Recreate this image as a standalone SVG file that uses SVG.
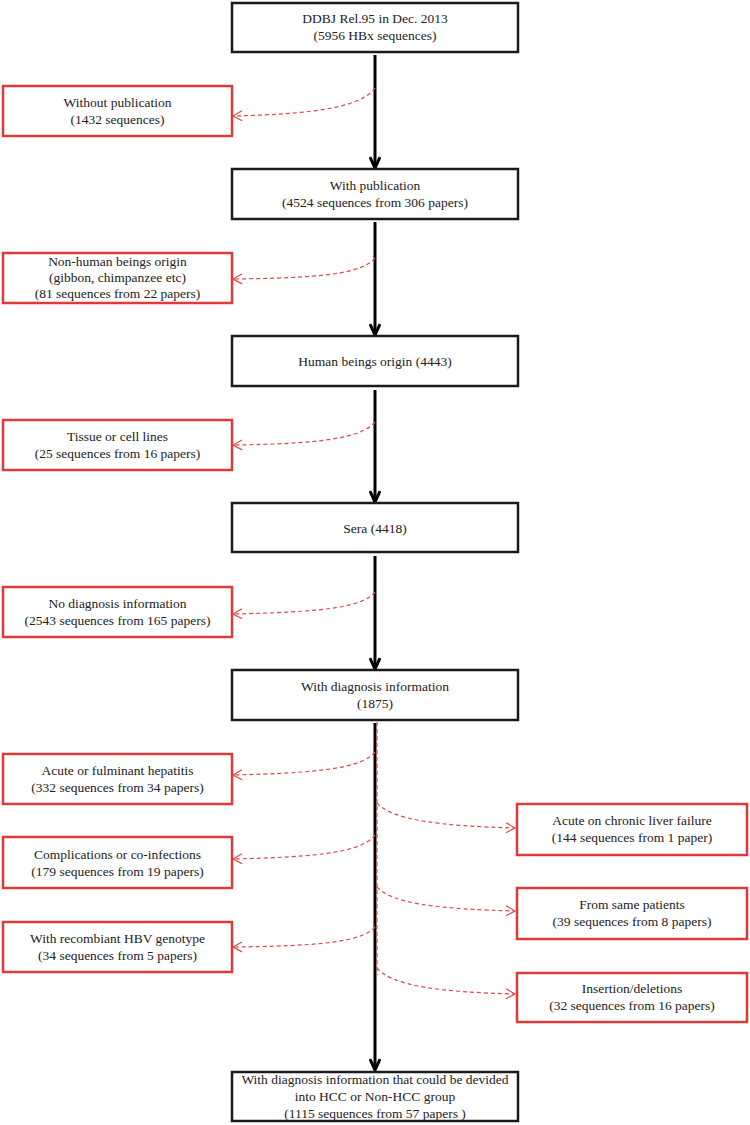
<svg xmlns="http://www.w3.org/2000/svg" width="750" height="1125" viewBox="0 0 750 1125" font-family="'Liberation Serif', 'Times New Roman', serif">
<style>
text{font-family:"Liberation Serif","Times New Roman",serif;font-size:13.5px;fill:#222;text-anchor:middle}
.main{fill:#fff;stroke:#1a1a1a;stroke-width:2.5}
.red{fill:#fff;stroke:#de3a3a;stroke-width:2.5}
.flow{fill:none;stroke:#000;stroke-width:3}
.ex{fill:none;stroke:#e04848;stroke-width:1.2;stroke-dasharray:4 3}
</style>
<defs>
<marker id="ah" markerWidth="14" markerHeight="12" refX="12" refY="6" orient="auto" markerUnits="userSpaceOnUse">
<path d="M1,1 L12,6 L1,11" fill="none" stroke="#000" stroke-width="3"/>
</marker>
<marker id="rh" markerWidth="12" markerHeight="12" refX="11" refY="6" orient="auto" markerUnits="userSpaceOnUse">
<path d="M2,1 L11,6 L2,11" fill="none" stroke="#e04848" stroke-width="1.2"/>
</marker>
</defs>
<g id="connectors">
<path class="flow" d="M375,55 V168" marker-end="url(#ah)"/>
<path class="flow" d="M375,222 V335" marker-end="url(#ah)"/>
<path class="flow" d="M375,390 V502" marker-end="url(#ah)"/>
<path class="flow" d="M375,556 V669" marker-end="url(#ah)"/>
<path class="flow" d="M375,723 V1070" marker-end="url(#ah)"/>
<path class="ex" d="M377,722 V975"/>
<path class="ex" d="M375,88 C362,106 320,114 233,116" marker-end="url(#rh)"/>
<path class="ex" d="M375,258 C362,274 320,278 233,279" marker-end="url(#rh)"/>
<path class="ex" d="M375,422 C362,438 320,444 233,445" marker-end="url(#rh)"/>
<path class="ex" d="M375,592 C362,608 320,612 233,614" marker-end="url(#rh)"/>
<path class="ex" d="M375,752 C362,768 320,773 233,775" marker-end="url(#rh)"/>
<path class="ex" d="M375,835 C362,852 320,857 233,859" marker-end="url(#rh)"/>
<path class="ex" d="M375,927 C362,942 320,946 233,947" marker-end="url(#rh)"/>
<path class="ex" d="M377,803 C392,820 440,826 515,828" marker-end="url(#rh)"/>
<path class="ex" d="M377,887 C392,904 440,909 515,911" marker-end="url(#rh)"/>
<path class="ex" d="M377,968 C392,986 440,992 515,994" marker-end="url(#rh)"/>
</g>
<g id="n1"><rect class="main" x="232" y="3" width="286" height="49"/><text x="375" y="23">DDBJ Rel.95 in Dec. 2013</text><text x="375" y="40">(5956 HBx sequences)</text></g>
<g id="n2"><rect class="main" x="232" y="169" width="286" height="50"/><text x="375" y="190">With publication</text><text x="375" y="207">(4524 sequences from 306 papers)</text></g>
<g id="n3"><rect class="main" x="232" y="336" width="286" height="50"/><text x="375" y="366">Human beings origin (4443)</text></g>
<g id="n4"><rect class="main" x="232" y="503" width="286" height="49"/><text x="375" y="533">Sera (4418)</text></g>
<g id="n5"><rect class="main" x="232" y="670" width="286" height="50"/><text x="375" y="691">With diagnosis information</text><text x="375" y="708">(1875)</text></g>
<g id="n6"><rect class="main" x="232" y="1072" width="286" height="49"/><text x="375" y="1084">With diagnosis information that could be devided</text><text x="375" y="1101">into HCC or Non-HCC group</text><text x="375" y="1118">(1115 sequences from 57 papers )</text></g>
<g id="r1"><rect class="red" x="3" y="86" width="229" height="50"/><text x="117.5" y="107">Without publication</text><text x="117.5" y="124">(1432 sequences)</text></g>
<g id="r2"><rect class="red" x="3" y="253" width="229" height="50"/><text x="117.5" y="266">Non-human beings origin</text><text x="117.5" y="282">(gibbon, chimpanzee etc)</text><text x="117.5" y="298">(81 sequences from 22 papers)</text></g>
<g id="r3"><rect class="red" x="3" y="420" width="229" height="50"/><text x="117.5" y="441">Tissue or cell lines</text><text x="117.5" y="458">(25 sequences from 16 papers)</text></g>
<g id="r4"><rect class="red" x="3" y="587" width="229" height="50"/><text x="117.5" y="608">No diagnosis information</text><text x="117.5" y="625">(2543 sequences from 165 papers)</text></g>
<g id="r5"><rect class="red" x="3" y="754" width="229" height="50"/><text x="117.5" y="775">Acute or fulminant hepatitis</text><text x="117.5" y="792">(332 sequences from 34 papers)</text></g>
<g id="r6"><rect class="red" x="3" y="837" width="229" height="51"/><text x="117.5" y="859">Complications or co-infections</text><text x="117.5" y="876">(179 sequences from 19 papers)</text></g>
<g id="r7"><rect class="red" x="3" y="922" width="229" height="50"/><text x="117.5" y="943">With recombiant HBV genotype</text><text x="117.5" y="960">(34 sequences from 5 papers)</text></g>
<g id="q1"><rect class="red" x="517" y="804" width="230" height="51"/><text x="632" y="825">Acute on chronic liver failure</text><text x="632" y="842">(144 sequences from 1 paper)</text></g>
<g id="q2"><rect class="red" x="517" y="888" width="230" height="51"/><text x="632" y="909">From same patients</text><text x="632" y="926">(39 sequences from 8 papers)</text></g>
<g id="q3"><rect class="red" x="517" y="973" width="230" height="49"/><text x="632" y="993">Insertion/deletions</text><text x="632" y="1010">(32 sequences from 16 papers)</text></g>
</svg>
